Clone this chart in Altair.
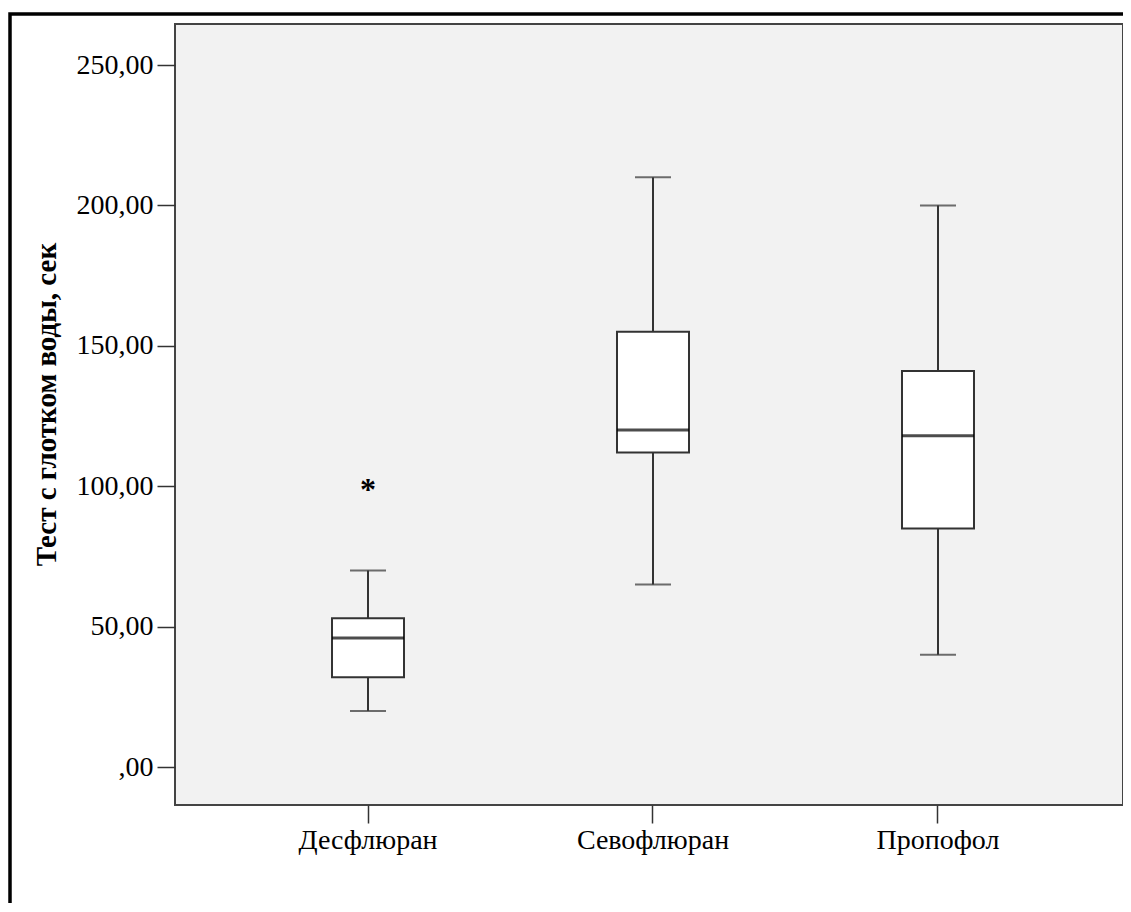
import altair as alt
import pandas as pd

groups = ["Десфлюран", "Севофлюран", "Пропофол"]
whisker_low = [20, 65, 40]
q1 = [32, 112, 85]
median = [46, 120, 118]
q3 = [53, 155, 141]
whisker_high = [70, 210, 200]

outlier_groups = ["Десфлюран"]
outlier_values = [100]

y_ticks = [0, 50, 100, 150, 200, 250]

df = pd.DataFrame({
    "group": groups,
    "lo": whisker_low,
    "q1": q1,
    "med": median,
    "q3": q3,
    "hi": whisker_high,
})
out_df = pd.DataFrame({"group": outlier_groups, "val": outlier_values})
frame_df = pd.DataFrame({"k": [0]})

STROKE = "#333333"
PAD_LEFT = 167

x_enc = alt.X(
    "group:N",
    sort=groups,
    scale=alt.Scale(domain=groups, paddingInner=0, paddingOuter=0.1632, align=0.543),
    axis=alt.Axis(
        title=None, labelAngle=0, labelFont="Liberation Serif", labelFontSize=28,
        labelColor="black", tickSize=18, tickColor=STROKE, tickWidth=1.5,
        labelPadding=3, domain=False, grid=False,
    ),
)
y_scale = alt.Scale(domain=[-13.5, 264.6], nice=False, zero=False)
y_axis = alt.Axis(
    title="Тест с глотком воды, сек",
    values=y_ticks,
    labelExpr="datum.value == 0 ? ',00' : format(datum.value, 'd') + ',00'",
    labelFont="Liberation Serif", labelFontSize=28, labelColor="black",
    labelPadding=4, tickSize=18, tickColor=STROKE, tickWidth=1.5,
    domain=False, grid=False,
    titleFont="Liberation Serif", titleFontSize=29, titleFontWeight="bold",
    titleColor="black", titleX=-129, titleY=380, titleAlign="center",
    titleBaseline="middle", titleAngle=270,
)

base = alt.Chart(df)

whisk_low = base.mark_rule(color=STROKE, strokeWidth=2).encode(
    x=x_enc, y=alt.Y("lo:Q", scale=y_scale, axis=y_axis), y2="q1:Q")
whisk_high = base.mark_rule(color=STROKE, strokeWidth=2).encode(
    x=x_enc, y=alt.Y("q3:Q", scale=y_scale), y2="hi:Q")
cap_low = base.mark_tick(color=STROKE, size=36, thickness=2).encode(
    x=x_enc, y=alt.Y("lo:Q", scale=y_scale))
cap_high = base.mark_tick(color=STROKE, size=36, thickness=2).encode(
    x=x_enc, y=alt.Y("hi:Q", scale=y_scale))
box = base.mark_bar(size=72, fill="white", stroke=STROKE, strokeWidth=2).encode(
    x=x_enc, y=alt.Y("q1:Q", scale=y_scale), y2="q3:Q")
med = base.mark_tick(color="black", size=72, thickness=3).encode(
    x=x_enc, y=alt.Y("med:Q", scale=y_scale))
outl = alt.Chart(out_df).mark_text(
    text="*", font="Liberation Serif", fontSize=32, fontWeight="bold",
    color="black", baseline="alphabetic", dy=14,
).encode(x=x_enc, y=alt.Y("val:Q", scale=y_scale))

frame = alt.Chart(frame_df).mark_rect(
    fillOpacity=0, stroke="black", strokeWidth=3.5
).encode(
    x=alt.value(2 - PAD_LEFT), x2=alt.value(3000),
    y=alt.value(-10), y2=alt.value(3000),
)

chart = alt.layer(
    whisk_low, whisk_high, cap_low, cap_high, box, med, outl, frame
).properties(
    width=948, height=781,
    autosize=alt.AutoSizeParams(type="none"),
    padding={"left": PAD_LEFT, "top": 16, "right": 0, "bottom": 98},
    background="white",
).configure_view(
    fill="#f2f2f2", stroke="#444444", strokeWidth=2,
)

chart.save("out.html", embed_options={"renderer": "svg", "actions": False})
